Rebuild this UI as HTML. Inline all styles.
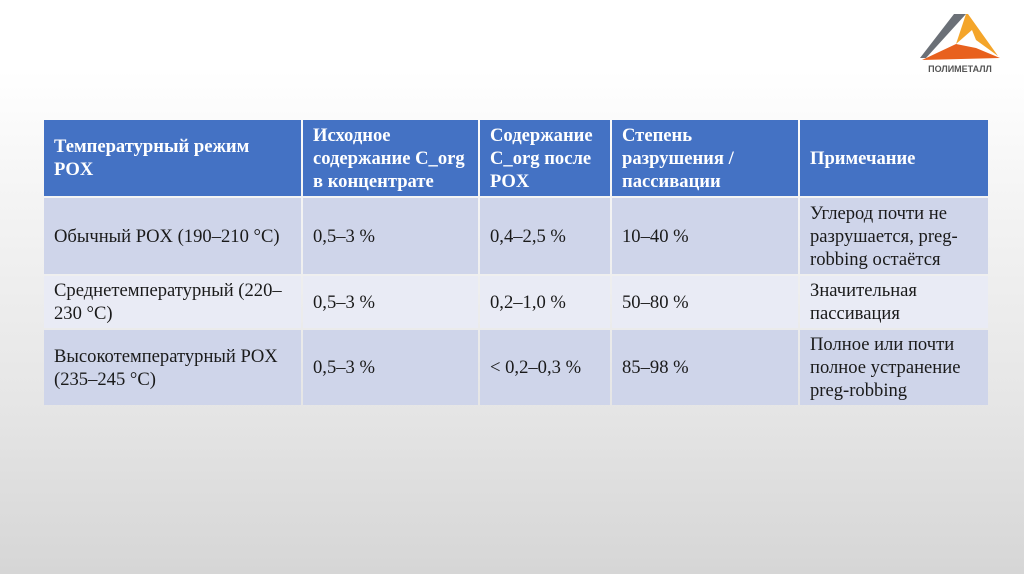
<!DOCTYPE html>
<html><head><meta charset="utf-8"><style>
body{margin:0;width:1024px;height:574px;overflow:hidden;font-family:"Liberation Serif","Noto Serif CJK SC",serif;
background:linear-gradient(to bottom,#fff 0,#fff 70px,#f4f4f4 200px,#e6e6e6 400px,#d6d6d6 574px);position:relative}
.c{position:absolute;box-sizing:border-box;padding:0 10px;display:flex;align-items:center;font-size:18.6px;line-height:23px;color:#1a1a1a;white-space:nowrap}
.h{background:#4472c4;color:#fff;font-weight:bold}
.a{background:#cfd5ea}.b{background:#e9ebf5}
</style></head><body>
<svg style="position:absolute;left:912px;top:8px" width="96" height="70" viewBox="0 0 96 70">
<polygon points="42,6 54,6 14,50 8,50" fill="#6b7077"/>
<polygon points="54,6 56,6 86,48 64,32 60,22 44,36" fill="#f4a52a"/>
<polygon points="10,52 44,36 64,40 88,50" fill="#e8611e"/>
<text x="48" y="64" text-anchor="middle" font-family="Liberation Sans,sans-serif" font-size="9" font-weight="bold" fill="#555">ПОЛИМЕТАЛЛ</text>
</svg>
<div class="c h" style="left:44px;top:120px;width:257px;height:76px">Температурный режим<br>POX</div>
<div class="c h" style="left:303px;top:120px;width:175px;height:76px">Исходное<br>содержание C_org<br>в концентрате</div>
<div class="c h" style="left:480px;top:120px;width:130px;height:76px">Содержание<br>C_org после<br>POX</div>
<div class="c h" style="left:612px;top:120px;width:186px;height:76px">Степень<br>разрушения /<br>пассивации</div>
<div class="c h" style="left:800px;top:120px;width:188px;height:76px">Примечание</div>

<div class="c a" style="left:44px;top:198px;width:257px;height:76px">Обычный POX (190–210 °C)</div>
<div class="c a" style="left:303px;top:198px;width:175px;height:76px">0,5–3 %</div>
<div class="c a" style="left:480px;top:198px;width:130px;height:76px">0,4–2,5 %</div>
<div class="c a" style="left:612px;top:198px;width:186px;height:76px">10–40 %</div>
<div class="c a" style="left:800px;top:198px;width:188px;height:76px">Углерод почти не<br>разрушается, preg-<br>robbing остаётся</div>

<div class="c b" style="left:44px;top:276px;width:257px;height:52px">Среднетемпературный (220–<br>230 °C)</div>
<div class="c b" style="left:303px;top:276px;width:175px;height:52px">0,5–3 %</div>
<div class="c b" style="left:480px;top:276px;width:130px;height:52px">0,2–1,0 %</div>
<div class="c b" style="left:612px;top:276px;width:186px;height:52px">50–80 %</div>
<div class="c b" style="left:800px;top:276px;width:188px;height:52px">Значительная<br>пассивация</div>

<div class="c a" style="left:44px;top:330px;width:257px;height:75px">Высокотемпературный POX<br>(235–245 °C)</div>
<div class="c a" style="left:303px;top:330px;width:175px;height:75px">0,5–3 %</div>
<div class="c a" style="left:480px;top:330px;width:130px;height:75px">&lt; 0,2–0,3 %</div>
<div class="c a" style="left:612px;top:330px;width:186px;height:75px">85–98 %</div>
<div class="c a" style="left:800px;top:330px;width:188px;height:75px">Полное или почти<br>полное устранение<br>preg-robbing</div>
</body></html>
